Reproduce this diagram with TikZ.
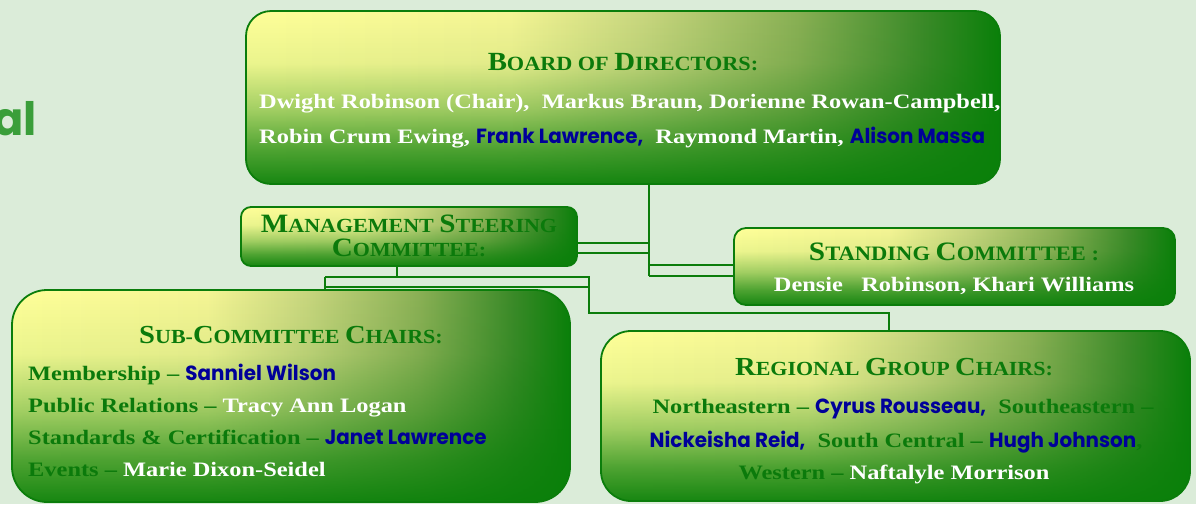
\documentclass[tikz,border=0pt]{standalone}
\usepackage{fontspec}
\setmainfont{Liberation Serif}[FakeStretch=1.19]
\newfontfamily\headfont{Liberation Serif}[FakeStretch=1.1]
\newfontfamily\comic{Poppins}[FakeStretch=0.97]
\usetikzlibrary{fadings,calc}
\definecolor{bg}{HTML}{DBECD9}
\definecolor{yel}{HTML}{FFFF99}
\definecolor{ga}{HTML}{F5F595}
\definecolor{gb}{HTML}{C8D67E}
\definecolor{gc}{HTML}{8AB055}
\definecolor{gd}{HTML}{3A8A28}
\definecolor{grn}{HTML}{0A800A}
\definecolor{bord}{HTML}{0B7D0B}
\definecolor{htxt}{HTML}{0B7A0B}
\definecolor{nblue}{HTML}{000099}
\definecolor{ttl}{HTML}{3A9E3A}
\pgfdeclarehorizontalshading{hgrad}{100bp}{color(0bp)=(yel); color(25bp)=(yel); color(42.5bp)=(ga); color(51.5bp)=(gb); color(61.5bp)=(gc); color(70bp)=(gd); color(75bp)=(grn); color(100bp)=(grn)}
\pgfdeclareverticalshading{vfade}{100bp}{color(0bp)=(pgftransparent!5); color(25bp)=(pgftransparent!5); color(35bp)=(pgftransparent!28); color(46.5bp)=(pgftransparent!62); color(60bp)=(pgftransparent!92); color(75bp)=(pgftransparent!100); color(100bp)=(pgftransparent!100)}
\tikzfading[name=fadedown, shading=vfade]
\newcommand\bigc[2][24]{{\fontsize{#1}{#1}\selectfont #2}}
\newcommand\cm[1]{{\comic\bfseries\color{nblue}#1}}
\tikzset{
  gbox/.style={shading=hgrad, inner sep=0pt, rounded corners=#1,
    postaction={fill=grn, path fading=fadedown},
    postaction={draw=bord, line width=1.8pt}},
  conn/.style={draw=bord, line width=1.8pt},
  head/.style={text=htxt, inner sep=0pt, anchor=base},
  body/.style={text=white, inner sep=0pt, font=\bfseries\fontsize{20.5}{22}\selectfont},
  glab/.style={text=htxt, inner sep=0pt, font=\bfseries\fontsize{20.5}{22}\selectfont},
}
\begin{document}
\begin{tikzpicture}[x=1pt,y=-1pt]
\fill[bg] (0,0) rectangle (1196,504);
\useasboundingbox (0,0) rectangle (1196,504);
% title fragment
\node[anchor=base east, inner sep=0pt, text=ttl, font=\comic\bfseries\fontsize{46}{46}\selectfont] (title) at (37,135) {al};
% boxes
\node[gbox=25pt, minimum width=754pt, minimum height=173pt] (board) at (623,97.5) {};
\node[gbox=10pt, minimum width=336pt, minimum height=59pt] (msc) at (409,236.5) {};
\node[gbox=12pt, minimum width=441pt, minimum height=77pt] (stand) at (954.5,266.5) {};
\node[gbox=35pt, minimum width=558pt, minimum height=212pt] (sub) at (291,396) {};
\node[gbox=30pt, minimum width=589pt, minimum height=170pt] (reg) at (895.5,416) {};
% connectors
\coordinate (j) at (649,276);
\coordinate (m1) at (397,277);
\coordinate (k) at (589,313);
\coordinate (r) at (889,313);
\draw[conn] (board.south -| j) -- (j);
\draw[conn] (msc.east |- 0,243) -- (j |- 0,243);
\draw[conn] (msc.east |- 0,253) -- (j |- 0,253);
\draw[conn] (j |- 0,265) -- (stand.west |- 0,265);
\draw[conn] (j) -- (stand.west |- j);
\draw[conn] (msc.south -| m1) -- (m1);
\draw[conn] (325,277) -- (589,277) -- (k) -- (r) -- (reg.north -| r);
\draw[conn] (325,287) -- (589,287);
\draw[conn] (325,277) -- (sub.north -| 325,0);
% board text
\node[head, font=\headfont\bfseries\fontsize{20.2}{20.2}\selectfont] (bh) at (623,70) {\bigc[26.2]{B}OARD OF \bigc[26.2]{D}IRECTORS:};
\node[body, anchor=base west] (b1) at (259,108) {Dwight Robinson (Chair),\ \ Markus Braun, Dorienne Rowan-Campbell,};
\node[body, anchor=base west] (b2) at (259,143) {Robin Crum Ewing, \cm{Frank Lawrence,}\ \ Raymond Martin, \cm{Alison Massa}};
% msc text
\node[head, font=\headfont\bfseries\fontsize{20}{20}\selectfont] (mh1) at (409,232) {\bigc[26.5]{M}ANAGEMENT \bigc[26.5]{S}TEERING};
\node[head, font=\headfont\bfseries\fontsize{20}{20}\selectfont] (mh2) at (409,256) {\bigc[26.5]{C}OMMITTEE:};
% standing text
\node[head, font=\headfont\bfseries\fontsize{20.5}{20.5}\selectfont] (sh) at (954,260) {\bigc[26.6]{S}TANDING \bigc[26.6]{C}OMMITTEE :};
\node[body, anchor=base] (s1) at (954,291) {Densie\ \ \ Robinson, Khari Williams};
% sub text
\node[head, font=\headfont\bfseries\fontsize{20}{20}\selectfont] (ch) at (291,343) {\bigc[26]{S}UB-\bigc[26]{C}OMMITTEE \bigc[26]{C}HAIRS:};
\node[glab, anchor=base west] (c1) at (28,380) {Membership -- \cm{Sanniel Wilson}};
\node[glab, anchor=base west] (c2) at (28,412) {Public Relations -- \textcolor{white}{Tracy Ann Logan}};
\node[glab, anchor=base west] (c3) at (28,444) {Standards \& Certification -- \cm{Janet Lawrence}};
\node[glab, anchor=base west] (c4) at (28,476) {Events -- \textcolor{white}{Marie Dixon-Seidel}};
% regional text
\node[head, font=\headfont\bfseries\fontsize{20}{20}\selectfont] (rh) at (894,375) {\bigc[26]{R}EGIONAL \bigc[26]{G}ROUP \bigc[26]{C}HAIRS:};
\node[glab, anchor=base] (r1) at (903,413) {Northeastern -- \cm{Cyrus Rousseau,}\ \ Southeastern --};
\node[glab, anchor=base] (r2) at (896,447) {\cm{Nickeisha Reid,}\ \ South Central -- \cm{Hugh Johnson},};
\node[glab, anchor=base] (r3) at (894,479) {Western -- \textcolor{white}{Naftalyle Morrison}};
\end{tikzpicture}
\end{document}
